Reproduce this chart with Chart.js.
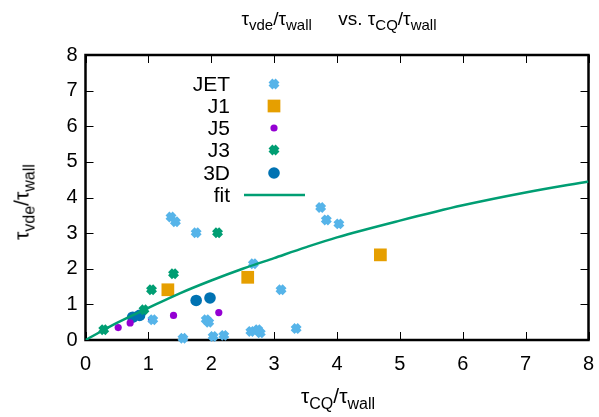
<!DOCTYPE html>
<html>
<head>
<meta charset="utf-8">
<script src="https://cdn.jsdelivr.net/npm/chart.js@4"></script>
<style>
 body { margin: 0; background: #fff; }
 #wrap { position: relative; width: 599px; height: 417px; font-family: "Liberation Sans", Arial, sans-serif; color: #000; }
 .lbl { position: absolute; white-space: nowrap; font-size: 21px; line-height: 1; }
 .lbl sub { font-size: 16px; vertical-align: -6px; }
 #title { left: 0; width: 678px; top: 9px; text-align: center; font-size: 19px; }
 #title sub { font-size: 15px; vertical-align: -5px; }
 #xtitle { left: 0; width: 676px; top: 385px; text-align: center; }
 #ytitle { left: 24px; top: 202px; transform: translate(-50%, -50%) rotate(-90deg); }
</style>
</head>
<body>
<div id="wrap">
 <canvas id="scatterChart" width="599" height="417"></canvas>
 <div class="lbl" id="title">τ<sub>vde</sub>/τ<sub>wall</sub> &nbsp;&nbsp;&nbsp; vs. τ<sub>CQ</sub>/τ<sub>wall</sub></div>
 <div class="lbl" id="xtitle">τ<sub>CQ</sub>/τ<sub>wall</sub></div>
 <div class="lbl" id="ytitle">τ<sub>vde</sub>/τ<sub>wall</sub></div>
</div>
<script>
 const xTicks = [0, 1, 2, 3, 4, 5, 6, 7, 8];
 const yTicks = [0, 1, 2, 3, 4, 5, 6, 7, 8];

 const jetX = [1.36, 1.43, 1.76, 3.74, 3.83, 4.03, 2.67, 3.11, 3.35, 2.63, 2.74, 2.78, 1.92, 1.96, 1.55, 2.03, 2.20, 1.07];
 const jetY = [3.45, 3.32, 3.01, 3.72, 3.37, 3.26, 2.14, 1.41, 0.32, 0.24, 0.29, 0.20, 0.57, 0.50, 0.05, 0.10, 0.13, 0.57];
 const j1X = [1.31, 2.58, 4.69];
 const j1Y = [1.41, 1.76, 2.39];
 const j5X = [0.52, 0.71, 1.05, 1.40, 2.12];
 const j5Y = [0.35, 0.48, 0.57, 0.69, 0.77];
 const j3X = [0.29, 0.93, 1.05, 1.40, 2.10];
 const j3Y = [0.29, 0.85, 1.41, 1.86, 3.01];
 const d3X = [0.75, 0.86, 1.76, 1.98];
 const d3Y = [0.64, 0.69, 1.11, 1.18];
 const fitX = [0, 0.5, 1, 1.5, 2, 2.5, 3, 3.5, 4, 5, 6, 7, 8];
 const fitY = [0, 0.48, 0.90, 1.31, 1.67, 2.00, 2.30, 2.60, 2.88, 3.35, 3.78, 4.14, 4.45];

 const pts = (xs, ys) => xs.map((x, i) => ({ x: x, y: ys[i] }));

 const jetColor = '#56b4e9';
 const j1Color = '#e69f00';
 const j5Color = '#9400d3';
 const j3Color = '#009e73';
 const d3Color = '#0072b2';
 const fitColor = '#009e73';

 // frame + inward ticks on all four sides, like gnuplot
 const framePlugin = {
  id: 'frame',
  beforeDatasetsDraw(chart) {
   const { ctx, chartArea: a, scales } = chart;
   ctx.save();
   ctx.strokeStyle = '#000';
   ctx.lineWidth = 1;
   xTicks.forEach(v => {
    const px = Math.round(scales.x.getPixelForValue(v)) + 0.5;
    ctx.beginPath();
    ctx.moveTo(px, a.bottom); ctx.lineTo(px, a.bottom - 8);
    ctx.moveTo(px, a.top); ctx.lineTo(px, a.top + 8);
    ctx.stroke();
   });
   yTicks.forEach(v => {
    const py = Math.round(scales.y.getPixelForValue(v)) + 0.5;
    ctx.beginPath();
    ctx.moveTo(a.left, py); ctx.lineTo(a.left + 8, py);
    ctx.moveTo(a.right, py); ctx.lineTo(a.right - 8, py);
    ctx.stroke();
   });
   ctx.lineWidth = 2.5;
   ctx.strokeRect(a.left, a.top, a.right - a.left, a.bottom - a.top);
   ctx.restore();
  }
 };

 // key in the upper left, text right-aligned with the symbol on its right
 const keyPlugin = {
  id: 'key',
  afterDraw(chart) {
   const ctx = chart.ctx;
   const textRight = 230, symX = 274, rowY = [84, 106, 128, 150, 173, 195];
   const names = ['JET', 'J1', 'J5', 'J3', '3D', 'fit'];
   ctx.save();
   ctx.font = '21px "Liberation Sans", Arial, sans-serif';
   ctx.fillStyle = '#000';
   ctx.textAlign = 'right';
   ctx.textBaseline = 'middle';
   names.forEach((n, i) => ctx.fillText(n, textRight, rowY[i] + 1));
   chart.data.datasets.forEach((ds, i) => {
    if (i === 5) {
     ctx.strokeStyle = fitColor;
     ctx.lineWidth = 2.5;
     ctx.beginPath();
     ctx.moveTo(244, rowY[5]); ctx.lineTo(305, rowY[5]);
     ctx.stroke();
     return;
    }
    ctx.fillStyle = ds.backgroundColor;
    ctx.strokeStyle = ds.borderColor;
    ctx.lineWidth = ds.borderWidth;
    Chart.helpers.drawPoint(ctx, {
     pointStyle: ds.pointStyle, radius: ds.pointRadius, rotation: 0, borderWidth: ds.borderWidth
    }, symX, rowY[i]);
   });
   ctx.restore();
  }
 };

 const crossSet = (label, data, color) => ({
  label: label, data: data, pointStyle: 'crossRot', pointRadius: 5,
  borderWidth: 5.5, borderColor: color, backgroundColor: color, showLine: false, clip: false
 });

 const ctx = document.getElementById('scatterChart').getContext('2d');
 const scatterChart = new Chart(ctx, {
  type: 'scatter',
  data: {
   datasets: [
    crossSet('JET', pts(jetX, jetY), jetColor),
    { label: 'J1', data: pts(j1X, j1Y), pointStyle: 'rect', pointRadius: 9, borderWidth: 0,
      backgroundColor: j1Color, borderColor: j1Color, clip: false },
    { label: 'J5', data: pts(j5X, j5Y), pointStyle: 'circle', pointRadius: 3.6, borderWidth: 0,
      backgroundColor: j5Color, borderColor: j5Color, clip: false },
    crossSet('J3', pts(j3X, j3Y), j3Color),
    { label: '3D', data: pts(d3X, d3Y), pointStyle: 'circle', pointRadius: 5.8, borderWidth: 0,
      backgroundColor: d3Color, borderColor: d3Color, clip: false },
    { label: 'fit', type: 'line', data: pts(fitX, fitY), borderColor: fitColor, backgroundColor: fitColor,
      borderWidth: 2.5, pointRadius: 0, cubicInterpolationMode: 'monotone', fill: false, order: -1 }
   ]
  },
  options: {
   responsive: false,
   animation: false,
   layout: { padding: { top: 55, right: 9, left: 0, bottom: 0 } },
   plugins: { legend: { display: false }, tooltip: { enabled: false }, title: { display: false } },
   scales: {
    x: {
     type: 'linear', min: 0, max: 8,
     grid: { display: false, drawTicks: false },
     border: { display: false },
     afterBuildTicks: s => { s.ticks = xTicks.map(v => ({ value: v })); },
     afterFit: s => { s.height = 77; s.paddingRight = 0; s.paddingLeft = 0; },
     ticks: { padding: 12, color: '#000', font: { family: '"Liberation Sans", Arial, sans-serif', size: 20 } }
    },
    y: {
     type: 'linear', min: 0, max: 8,
     grid: { display: false, drawTicks: false },
     border: { display: false },
     afterBuildTicks: s => { s.ticks = yTicks.map(v => ({ value: v })); },
     afterFit: s => { s.width = 85.5; s.paddingTop = 0; s.paddingBottom = 0; },
     ticks: { padding: 8, color: '#000', font: { family: '"Liberation Sans", Arial, sans-serif', size: 20 } }
    }
   }
  },
  plugins: [framePlugin, keyPlugin]
 });
</script>
</body>
</html>
